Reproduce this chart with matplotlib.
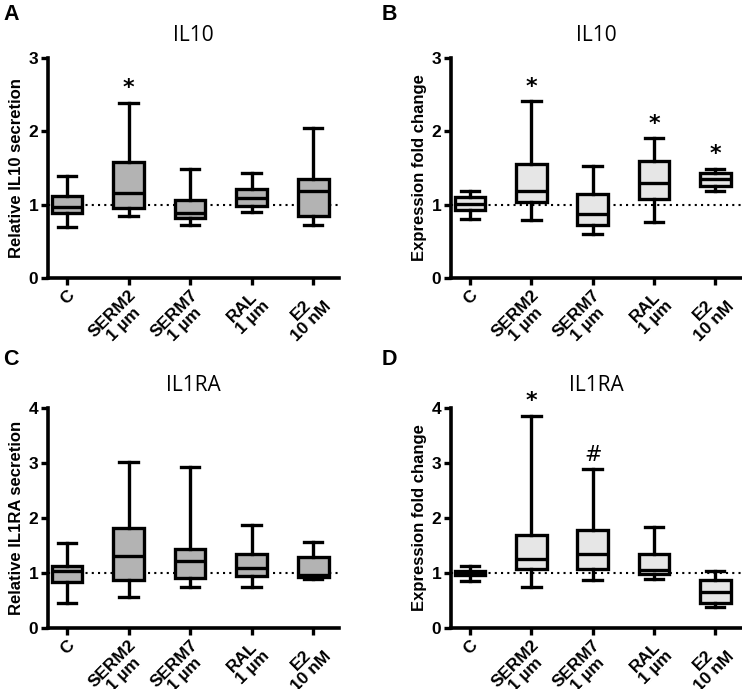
import matplotlib
matplotlib.use("Agg")
import matplotlib.pyplot as plt

plt.rcParams['font.family'] = ['Liberation Sans', 'DejaVu Sans']

categories = ["C", "SERM2\n1 µm", "SERM7\n1 µm", "RAL\n1 µm", "E2\n10 nM"]

# each panel: whislo, q1, med, q3, whishi per category
A_lo = [0.70, 0.84, 0.72, 0.90, 0.72]
A_q1 = [0.89, 0.95, 0.82, 0.98, 0.85]
A_med = [0.97, 1.16, 0.89, 1.09, 1.18]
A_q3 = [1.12, 1.58, 1.06, 1.21, 1.35]
A_hi = [1.39, 2.39, 1.48, 1.43, 2.05]
A_marks = ["", "*", "", "", ""]

B_lo = [0.81, 0.79, 0.60, 0.76, 1.18]
B_q1 = [0.93, 1.03, 0.72, 1.08, 1.26]
B_med = [1.01, 1.19, 0.87, 1.30, 1.35]
B_q3 = [1.11, 1.56, 1.14, 1.59, 1.43]
B_hi = [1.19, 2.41, 1.53, 1.91, 1.49]
B_marks = ["", "*", "", "*", "*"]

C_lo = [0.46, 0.57, 0.74, 0.74, 0.89]
C_q1 = [0.84, 0.87, 0.91, 0.95, 0.92]
C_med = [1.03, 1.31, 1.21, 1.10, 0.96]
C_q3 = [1.12, 1.81, 1.44, 1.35, 1.29]
C_hi = [1.55, 3.01, 2.93, 1.87, 1.56]
C_marks = ["", "", "", "", ""]

D_lo = [0.86, 0.75, 0.87, 0.89, 0.38]
D_q1 = [0.96, 1.08, 1.08, 0.98, 0.45]
D_med = [1.00, 1.26, 1.34, 1.05, 0.66]
D_q3 = [1.04, 1.70, 1.79, 1.34, 0.88]
D_hi = [1.13, 3.86, 2.89, 1.84, 1.03]
D_marks = ["", "*", "#", "", ""]

panels = [
    dict(letter="A", title="IL10", ylabel="Relative IL10 secretion", ymax=3,
         lo=A_lo, q1=A_q1, med=A_med, q3=A_q3, hi=A_hi, marks=A_marks, fill="#b3b3b3"),
    dict(letter="B", title="IL10", ylabel="Expression fold change", ymax=3,
         lo=B_lo, q1=B_q1, med=B_med, q3=B_q3, hi=B_hi, marks=B_marks, fill="#e6e6e6"),
    dict(letter="C", title="IL1RA", ylabel="Relative IL1RA secretion", ymax=4,
         lo=C_lo, q1=C_q1, med=C_med, q3=C_q3, hi=C_hi, marks=C_marks, fill="#b3b3b3"),
    dict(letter="D", title="IL1RA", ylabel="Expression fold change", ymax=4,
         lo=D_lo, q1=D_q1, med=D_med, q3=D_q3, hi=D_hi, marks=D_marks, fill="#e6e6e6"),
]

W, H = 742, 689
fig = plt.figure(figsize=(W / 100, H / 100), dpi=100)

rects = [
    (48, 339, 58, 278),
    (451, 741, 58, 278),
    (48, 339, 408, 628),
    (451, 741, 408, 628),
]
letter_pos = [(3, 4), (382, 4), (3, 349), (382, 349)]

lw = 2.4
for p, (l, r, t, b), (lx, ly) in zip(panels, rects, letter_pos):
    ax = fig.add_axes([l / W, (H - b) / H, (r - l) / W, (b - t) / H])
    stats = []
    for i in range(len(categories)):
        stats.append(dict(whislo=p["lo"][i], q1=p["q1"][i], med=p["med"][i],
                          q3=p["q3"][i], whishi=p["hi"][i], fliers=[]))
    pos = list(range(len(categories)))
    ax.axhline(1, color="black", lw=1.5, ls=(0, (1, 2)), zorder=1)
    ax.bxp(stats, positions=pos, widths=0.5, capwidths=0.3, patch_artist=True,
           showfliers=False,
           boxprops=dict(facecolor=p["fill"], edgecolor="black", linewidth=lw),
           medianprops=dict(color="black", linewidth=lw),
           whiskerprops=dict(color="black", linewidth=lw),
           capprops=dict(color="black", linewidth=lw))
    for i, m in enumerate(p["marks"]):
        if m:
            ax.text(i, p["hi"][i] + 0.06 * p["ymax"] / 3, m, ha="center", va="bottom",
                    fontsize=16 if m == "*" else 15, fontweight="bold" if m == "*" else "normal",
                    family=["DejaVu Sans"])
    ax.set_xlim(-0.31, 4.42)
    ax.set_ylim(0, p["ymax"])
    ax.set_yticks(range(0, p["ymax"] + 1))
    ax.set_xticks(pos)
    ax.set_xticklabels(categories, rotation=45, ha="right", va="top",
                       rotation_mode="anchor", multialignment="center",
                       fontsize=12.5, fontweight="bold", linespacing=1.0)
    for lab in ax.get_yticklabels():
        lab.set_fontweight("bold")
        lab.set_fontsize(12.5)
    ax.tick_params(axis="both", width=2.4, length=5, direction="out", pad=2)
    ax.spines["top"].set_visible(False)
    ax.spines["right"].set_visible(False)
    ax.spines["left"].set_linewidth(2.6)
    ax.spines["bottom"].set_linewidth(2.6)
    ax.set_ylabel(p["ylabel"], fontsize=12, fontweight="bold", labelpad=3)
    ax.set_title(p["title"], fontsize=15, family=["Open Sans", "DejaVu Sans"], pad=12)
    fig.text(lx / W, 1 - ly / H, p["letter"], fontsize=15.5, fontweight="bold",
             ha="left", va="top")

fig.savefig("out.png", dpi=100)
